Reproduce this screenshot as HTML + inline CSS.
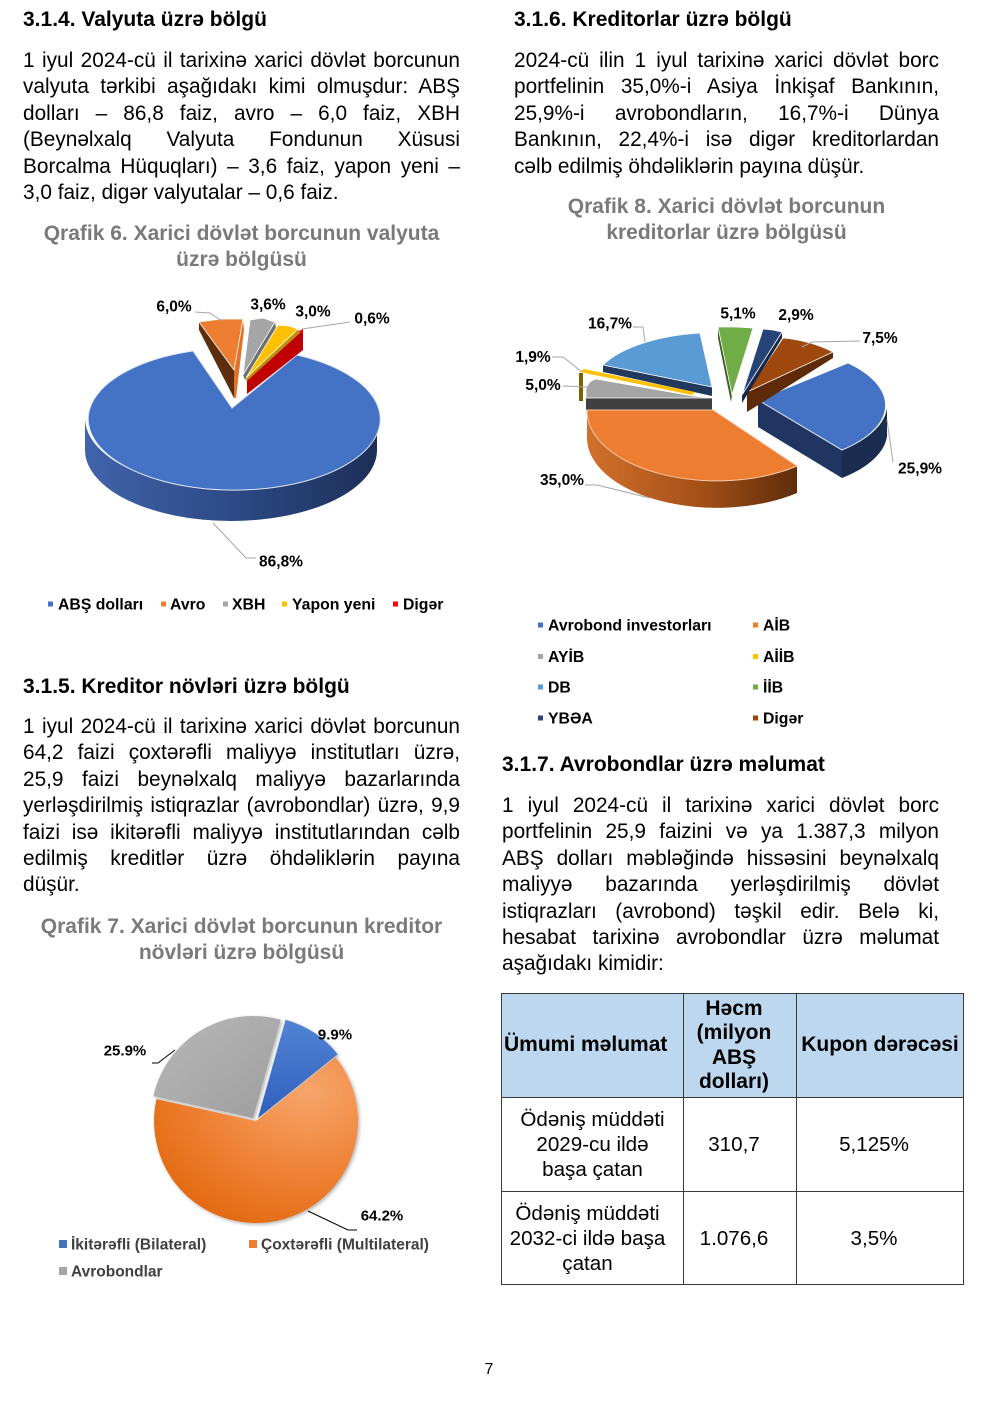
<!DOCTYPE html>
<html>
<head>
<meta charset="utf-8">
<style>
html,body{margin:0;padding:0;background:#fff;}
body{width:1000px;height:1404px;position:relative;overflow:hidden;font-family:"Liberation Sans","DejaVu Sans",sans-serif;color:#000;}
.blk{position:absolute;font-size:20.8px;line-height:26.4px;}
.blk div{text-align:justify;text-align-last:justify;white-space:nowrap;}
.blk div.last{text-align:left;text-align-last:left;}
.h{position:absolute;font-size:21px;font-weight:bold;line-height:26px;white-space:nowrap;}
.cap{position:absolute;font-size:21px;font-weight:bold;color:#7a7a7a;line-height:26.4px;text-align:center;white-space:nowrap;}
svg text{font-family:"Liberation Sans","DejaVu Sans",sans-serif;font-weight:bold;}
table{position:absolute;left:501px;top:993px;width:462px;table-layout:fixed;border-collapse:collapse;font-size:20.6px;line-height:25px;}
td{border:1.5px solid #3a3a3a;text-align:center;vertical-align:middle;padding:0;}
td.hd{background:#bdd7ee;font-weight:bold;font-size:21px;line-height:24.5px;}
td.pr{padding-right:12px;}
</style>
</head>
<body>

<svg width="1000" height="1404" style="position:absolute;left:0;top:0">
<defs>
  <linearGradient id="bside" x1="0" y1="0" x2="1" y2="0">
    <stop offset="0" stop-color="#4163ab"/>
    <stop offset="0.5" stop-color="#2d4a86"/>
    <stop offset="1" stop-color="#1c2f58"/>
  </linearGradient>
  <linearGradient id="oside" x1="0" y1="0" x2="1" y2="0">
    <stop offset="0" stop-color="#d2702c"/>
    <stop offset="0.55" stop-color="#a24f17"/>
    <stop offset="1" stop-color="#5e2c0a"/>
  </linearGradient>
  <linearGradient id="g7blue" x1="0" y1="0" x2="0" y2="1">
    <stop offset="0" stop-color="#5283d3"/>
    <stop offset="1" stop-color="#2f5fbd"/>
  </linearGradient>
  <radialGradient id="g7or" cx="0.75" cy="0.2" r="0.95">
    <stop offset="0" stop-color="#f6a56c"/>
    <stop offset="0.5" stop-color="#f08438"/>
    <stop offset="1" stop-color="#e0650c"/>
  </radialGradient>
  <linearGradient id="g7gr" x1="0" y1="0" x2="1" y2="1">
    <stop offset="0" stop-color="#b9b9b9"/>
    <stop offset="1" stop-color="#9d9d9d"/>
  </linearGradient>
  <filter id="sh" x="-20%" y="-20%" width="140%" height="140%">
    <feDropShadow dx="1.5" dy="1.5" stdDeviation="1.8" flood-color="#000" flood-opacity="0.3"/>
  </filter>
</defs>

<!-- ===== Chart 6 ===== -->
<path d="M85,418 A146,71 0 0,0 377,418 L377,450 A146,71 0 0,1 85,450 Z" fill="url(#bside)"/>
<path d="M232,408 L297,355 A146,71 0 1,1 193,351 Z" fill="#4472c4" stroke="#dfe6f3" stroke-width="1"/>
<!-- orange -->
<polygon points="199,322 234,370 234,398 199,330" fill="#5c2e0e"/>
<polygon points="234,370 243,320 244,330 236,398 234,398" fill="#e0732a"/>
<polygon points="199,322 221,319 243,319 234,370" fill="#ed7d31" stroke="#fff" stroke-width="0.8"/>
<!-- gray -->
<polygon points="275,322 276,328 245,380 243,375" fill="#6f6f6f"/>
<polygon points="250,320 263,318 275,322 243,375" fill="#a5a5a5" stroke="#fff" stroke-width="0.8"/>
<!-- yellow -->
<polygon points="298,329 300,334 247,383 246,378" fill="#bf9000"/>
<polygon points="278,325 289,326 298,329 246,378" fill="#ffc000" stroke="#fff" stroke-width="0.8"/>
<!-- red -->
<polygon points="247,381 301,332 303,331 303,350 247,394" fill="#c00000"/>
<polygon points="299,331 303,329 303,332 300,334" fill="#ff0000"/>
<!-- leaders -->
<polyline points="195,312 210,313 222,321" fill="none" stroke="#a6a6a6" stroke-width="1"/>
<polyline points="350,322 302,329" fill="none" stroke="#a6a6a6" stroke-width="1"/>
<polyline points="213,523 246,558 256,558" fill="none" stroke="#a6a6a6" stroke-width="1"/>
<text x="174" y="311.5" font-size="15.5" text-anchor="middle">6,0%</text>
<text x="268" y="309.5" font-size="15.5" text-anchor="middle">3,6%</text>
<text x="313" y="316.5" font-size="15.5" text-anchor="middle">3,0%</text>
<text x="372" y="323.5" font-size="15.5" text-anchor="middle">0,6%</text>
<text x="281" y="566.5" font-size="15.5" text-anchor="middle">86,8%</text>
<!-- legend 6 -->
<rect x="48" y="601.5" width="5" height="5" fill="#4472c4"/>
<text x="58" y="609.5" font-size="15.8">ABŞ dolları</text>
<rect x="161" y="601.5" width="5" height="5" fill="#ed7d31"/>
<text x="170" y="609.5" font-size="15.8">Avro</text>
<rect x="223" y="601.5" width="5" height="5" fill="#a5a5a5"/>
<text x="232" y="609.5" font-size="15.8">XBH</text>
<rect x="282" y="601.5" width="5" height="5" fill="#ffc000"/>
<text x="292" y="609.5" font-size="15.8">Yapon yeni</text>
<rect x="393" y="601.5" width="5" height="5" fill="#ff0000"/>
<text x="403" y="609.5" font-size="15.8">Digər</text>

<!-- ===== Chart 8 ===== -->
<!-- DB light blue -->
<polygon points="603,365 712,387 712,396 603,372" fill="#21395c"/>
<path d="M712,387 L603,365 A125,55 0 0,1 700,333 Z" fill="#5b9bd5" stroke="#fff" stroke-width="0.8"/>
<!-- yellow AİİB -->
<rect x="579" y="373" width="4" height="28" fill="#7f6000"/>
<polygon points="580,372 584,369 695,392 692,395" fill="#ffc000"/>
<!-- gray AYİB -->
<polygon points="586,398 712,398 712,410 586,410" fill="#404040"/>
<path d="M712,398 L586,398 L586,389 Q588,381 596,379 L693,396 Z" fill="#a5a5a5" stroke="#fff" stroke-width="0.8"/>
<!-- orange AİB -->
<path d="M587,410 A130,70 0 0,0 797,466 L797,493 A130,70 0 0,1 587,437 Z" fill="url(#oside)"/>
<path d="M713,410 L587,410 A130,70 0 0,0 797,466 Z" fill="#ed7d31" stroke="#f6c9a8" stroke-width="1"/>
<!-- blue Avrobond -->
<path d="M887,408 A130,60 0 0,1 842,450 L842,478 A130,60 0 0,0 887,436 Z" fill="#1a2c50"/>
<polygon points="758,400 842,450 842,478 758,427" fill="#203562"/>
<path d="M758,400 L848,363 A130,60 0 0,1 842,450 Z" fill="#4472c4" stroke="#fff" stroke-width="0.8"/>
<!-- brown Digər -->
<polygon points="747,392 833,352 833,358 747,412" fill="#5e2a07"/>
<path d="M747,392 L783,338 A100,60 0 0,1 833,352 Z" fill="#9e480e" stroke="#fff" stroke-width="0.8"/>
<!-- navy YBƏA -->
<polygon points="742,395 782,332 782,338 742,403" fill="#15284a"/>
<polygon points="742,395 763,329 773,330 782,332" fill="#264478" stroke="#fff" stroke-width="0.8"/>
<!-- green İİB -->
<polygon points="718,327 718,338 731,402 732,395" fill="#3a5e24"/>
<polygon points="718,327 736,327 753,328 732,395" fill="#70ad47" stroke="#fff" stroke-width="0.8"/>
<!-- leaders -->
<g fill="none" stroke="#a6a6a6" stroke-width="1">
<polyline points="633,327 643,327 645,342"/>
<polyline points="552,357 563,357 582,372"/>
<polyline points="563,386 587,387"/>
<polyline points="860,341 812,342 802,347"/>
<polyline points="893,462 887,420"/>
<polyline points="585,485 597,485 650,498"/>
</g>
<text x="610" y="328.5" font-size="15.5" text-anchor="middle">16,7%</text>
<text x="738" y="318.5" font-size="15.5" text-anchor="middle">5,1%</text>
<text x="796" y="320" font-size="15.5" text-anchor="middle">2,9%</text>
<text x="880" y="343" font-size="15.5" text-anchor="middle">7,5%</text>
<text x="533" y="362" font-size="15.5" text-anchor="middle">1,9%</text>
<text x="543" y="390" font-size="15.5" text-anchor="middle">5,0%</text>
<text x="562" y="485" font-size="15.5" text-anchor="middle">35,0%</text>
<text x="920" y="473.5" font-size="15.5" text-anchor="middle">25,9%</text>
<!-- legend 8 -->
<rect x="538" y="622.5" width="5" height="5" fill="#4472c4"/>
<text x="548" y="630.5" font-size="15.8">Avrobond investorları</text>
<rect x="753" y="622.5" width="5" height="5" fill="#ed7d31"/>
<text x="763" y="630.5" font-size="15.8">AİB</text>
<rect x="538" y="654" width="5" height="5" fill="#a5a5a5"/>
<text x="548" y="662" font-size="15.8">AYİB</text>
<rect x="753" y="654" width="5" height="5" fill="#ffc000"/>
<text x="763" y="662" font-size="15.8">AİİB</text>
<rect x="538" y="684.5" width="5" height="5" fill="#5b9bd5"/>
<text x="548" y="692.5" font-size="15.8">DB</text>
<rect x="753" y="684.5" width="5" height="5" fill="#70ad47"/>
<text x="763" y="692.5" font-size="15.8">İİB</text>
<rect x="538" y="715.5" width="5" height="5" fill="#264478"/>
<text x="548" y="723.5" font-size="15.8">YBƏA</text>
<rect x="753" y="715.5" width="5" height="5" fill="#9e480e"/>
<text x="763" y="723.5" font-size="15.8">Digər</text>

<!-- ===== Chart 7 ===== -->
<g filter="url(#sh)">
<path d="M256,1121 L335.6,1057.2 A102,102 0 1,1 156.4,1099.1 Z" fill="url(#g7or)"/>
<path d="M253,1118 L153.4,1096.1 A102,102 0 0,1 280.6,1019.8 Z" fill="url(#g7gr)"/>
<path d="M258,1118 L285.6,1019.8 A102,102 0 0,1 337.6,1054.2 Z" fill="url(#g7blue)"/>
</g>
<g fill="none" stroke="#000" stroke-width="1">
<polyline points="152,1063 158,1063 175,1050"/>
<polyline points="308,1211 348,1230 357,1230"/>
</g>
<text x="335" y="1039.5" font-size="15" text-anchor="middle">9.9%</text>
<text x="125" y="1055.5" font-size="15" text-anchor="middle">25.9%</text>
<text x="382" y="1220.5" font-size="15" text-anchor="middle">64.2%</text>
<rect x="59" y="1240" width="8" height="8" fill="#4472c4"/>
<text x="71" y="1249.5" font-size="15.5" fill="#404040">İkitərəfli (Bilateral)</text>
<rect x="249" y="1240" width="8" height="8" fill="#ed7d31"/>
<text x="261" y="1249.5" font-size="15.5" fill="#404040">Çoxtərəfli (Multilateral)</text>
<rect x="59" y="1267" width="8" height="8" fill="#a5a5a5"/>
<text x="71" y="1276.5" font-size="15.5" fill="#404040">Avrobondlar</text>

<text x="489" y="1374" font-size="16" text-anchor="middle" style="font-weight:normal">7</text>
</svg>

<!-- ===== Left column text ===== -->
<div class="h" style="left:23px;top:7px;">3.1.4. Valyuta üzrə bölgü</div>
<div class="blk" style="left:23px;top:48px;width:437px;">
<div>1 iyul 2024-cü il tarixinə xarici dövlət borcunun</div>
<div>valyuta tərkibi aşağıdakı kimi olmuşdur: ABŞ</div>
<div>dolları – 86,8 faiz, avro – 6,0 faiz, XBH</div>
<div>(Beynəlxalq Valyuta Fondunun Xüsusi</div>
<div>Borcalma Hüquqları) – 3,6 faiz, yapon yeni –</div>
<div class="last">3,0 faiz, digər valyutalar – 0,6 faiz.</div>
</div>
<div class="cap" style="left:23px;top:221px;width:437px;">Qrafik 6. Xarici dövlət borcunun valyuta<br>üzrə bölgüsü</div>

<div class="h" style="left:23px;top:674px;">3.1.5. Kreditor növləri üzrə bölgü</div>
<div class="blk" style="left:23px;top:714px;width:437px;">
<div>1 iyul 2024-cü il tarixinə xarici dövlət borcunun</div>
<div>64,2 faizi çoxtərəfli maliyyə institutları üzrə,</div>
<div>25,9 faizi beynəlxalq maliyyə bazarlarında</div>
<div>yerləşdirilmiş istiqrazlar (avrobondlar) üzrə, 9,9</div>
<div>faizi isə ikitərəfli maliyyə institutlarından cəlb</div>
<div>edilmiş kreditlər üzrə öhdəliklərin payına</div>
<div class="last">düşür.</div>
</div>
<div class="cap" style="left:23px;top:914px;width:437px;">Qrafik 7. Xarici dövlət borcunun kreditor<br>növləri üzrə bölgüsü</div>

<!-- ===== Right column text ===== -->
<div class="h" style="left:514px;top:7px;">3.1.6. Kreditorlar üzrə bölgü</div>
<div class="blk" style="left:514px;top:48px;width:425px;">
<div>2024-cü ilin 1 iyul tarixinə xarici dövlət borc</div>
<div>portfelinin 35,0%-i Asiya İnkişaf Bankının,</div>
<div>25,9%-i avrobondların, 16,7%-i Dünya</div>
<div>Bankının, 22,4%-i isə digər kreditorlardan</div>
<div class="last">cəlb edilmiş öhdəliklərin payına düşür.</div>
</div>
<div class="cap" style="left:514px;top:194px;width:425px;">Qrafik 8. Xarici dövlət borcunun<br>kreditorlar üzrə bölgüsü</div>

<div class="h" style="left:502px;top:752px;">3.1.7. Avrobondlar üzrə məlumat</div>
<div class="blk" style="left:502px;top:793px;width:437px;">
<div>1 iyul 2024-cü il tarixinə xarici dövlət borc</div>
<div>portfelinin 25,9 faizini və ya 1.387,3 milyon</div>
<div>ABŞ dolları məbləğində hissəsini beynəlxalq</div>
<div>maliyyə bazarında yerləşdirilmiş dövlət</div>
<div>istiqrazları (avrobond) təşkil edir. Belə ki,</div>
<div>hesabat tarixinə avrobondlar üzrə məlumat</div>
<div class="last">aşağıdakı kimidir:</div>
</div>

<table>
<colgroup><col style="width:182px"><col style="width:113px"><col style="width:167px"></colgroup>
<tr style="height:104px;">
  <td class="hd" style="text-align:left;padding-left:2px;white-space:nowrap;">Ümumi məlumat</td>
  <td class="hd pr">Həcm<br>(milyon<br>ABŞ<br>dolları)</td>
  <td class="hd" style="white-space:nowrap;">Kupon dərəcəsi</td>
</tr>
<tr style="height:94px;">
  <td>Ödəniş müddəti<br>2029-cu ildə<br>başa çatan</td>
  <td class="pr">310,7</td>
  <td class="pr">5,125%</td>
</tr>
<tr style="height:93px;">
  <td style="white-space:nowrap;padding-right:10px;">Ödəniş müddəti<br>2032-ci ildə başa<br>çatan</td>
  <td class="pr">1.076,6</td>
  <td class="pr">3,5%</td>
</tr>
</table>

</body>
</html>
